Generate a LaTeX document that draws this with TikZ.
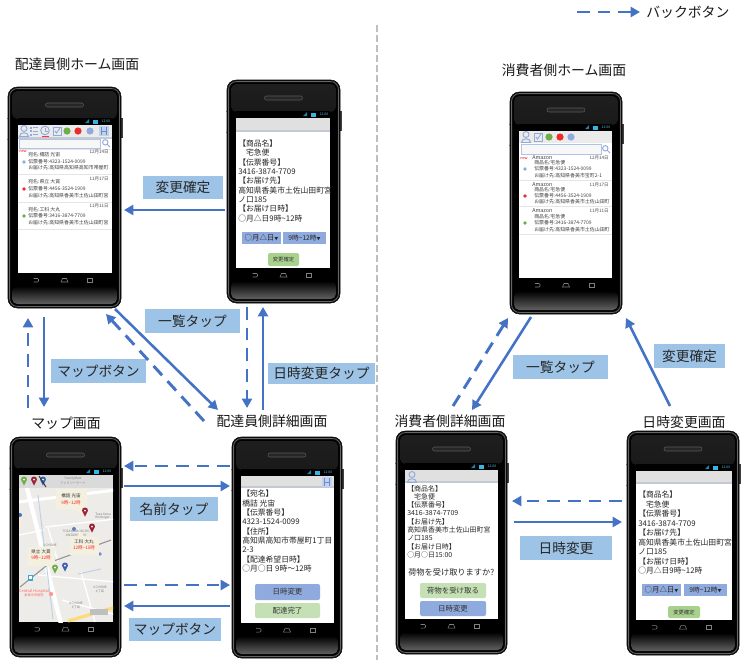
\documentclass[tikz,border=0pt]{standalone}
\usepackage{fontspec}
\setmainfont{Noto Sans CJK JP}
\usetikzlibrary{arrows.meta}

\definecolor{arrowblue}{HTML}{4472C4}
\definecolor{tagblue}{HTML}{9DC3E6}
\definecolor{btnblue}{HTML}{8FAADC}
\definecolor{btngreen}{HTML}{C5E0B4}
\definecolor{okgreen}{HTML}{A9D18E}
\definecolor{barblue}{HTML}{33B5E5}
\definecolor{dotgreen}{HTML}{70AD47}
\definecolor{dotred}{HTML}{EE2A2A}
\definecolor{pinred}{HTML}{9B2335}
\definecolor{pinblue}{HTML}{3A63B0}
\definecolor{mapbase}{HTML}{EEECE8}
\definecolor{bubble}{HTML}{F3F0DF}

\newcommand{\fsz}[1]{\fontsize{#1}{#1}\selectfont}
\newcommand{\tld}{\textasciitilde}

\tikzset{
  x=0.75pt, y=-0.75pt,
  fwdarrow/.style={draw=arrowblue, line width=1.9pt, -{Triangle[length=7pt, width=7.5pt]}},
  backarrow/.style={draw=arrowblue, line width=2.2pt, dash pattern=on 9.5pt off 6pt, -{Triangle[length=7pt, width=7.5pt]}},
  tagbox/.style 2 args={fill=tagblue, inner sep=0, minimum width={#1*0.75pt}, minimum height={#2*0.75pt}, font=\fsz{10.3}, text=black!85},
  titletext/.style={inner sep=0, font=\fsz{10.4}, text=black!90},
  phonecase/.style={draw=black, fill=black!92, rounded corners=7pt, inner sep=0, outer sep=0},
  blocktext/.style={anchor=north west, inner sep=0, align=left, text=black!85},
  listtext/.style={anchor=west, inner sep=0, font=\fsz{3.7}, text=black!75},
  daytext/.style={anchor=east, inner sep=0, font=\fsz{3.4}, text=black!70},
  screenbtn/.style n args={3}{fill=#3, rounded corners=1.5pt, inner sep=0, minimum width={#1*0.75pt}, minimum height={#2*0.75pt}, font=\fsz{5.6}, text=black!80},
  dropbox/.style 2 args={fill=btnblue, inner sep=0, minimum width={#1*0.75pt}, minimum height={#2*0.75pt}, font=\fsz{5.6}, text=black!85},
  icon/.style={draw=btnblue, line width=0.7pt},
  navkey/.style={draw=black!50, line width=0.4pt},
  maptext/.style={inner sep=0, font=\fsz{2.4}, text=black!50},
  bubbletext/.style={inner sep=0, font=\fsz{3.4}, text=black!80},
}

% case name, case x0 y0 x1 y1, screen x0 y0 x1 y1
\newcommand{\phone}[9]{
  \pgfmathsetmacro{\cx}{(#2+#4)/2}
  \pgfmathsetmacro{\cy}{(#3+#5)/2}
  \pgfmathsetmacro{\cw}{#4-#2}
  \pgfmathsetmacro{\ch}{#5-#3}
  \fill[black!75] (#4-1,#7-7) rectangle (#4+1.5,#7+13);
  \fill[black!40] (#2-1,#7-7) rectangle (#2+1,#7-6.4);
  \fill[black!40] (#2-1,#7+14) rectangle (#2+1,#7+14.6);
  \node[phonecase, minimum width={\cw*0.75pt}, minimum height={\ch*0.75pt}] (#1) at (\cx,\cy) {};
  \draw[black!60, line width=0.5pt, rounded corners=6pt] (#2+1.5,#3+1.5) rectangle (#4-1.5,#5-1.5);
  \fill[black, rounded corners=5.5pt] (#2+2.5,#3+2.5) rectangle (#4-2.5,#5-2.5);
  \shade[top color=black!88, middle color=black!60, bottom color=black!90, rounded corners=4pt] (#2+4,#3+4) rectangle (#4-4,#7-6);
  \shade[top color=black, bottom color=black!62, rounded corners=4pt] (#2+4,#9+13) rectangle (#4-4,#5-4);
  \fill[black] (#6,#7-7) rectangle (#8,#9+13);
  \fill[white] (#6,#7) rectangle (#8,#9);
  \draw[black!65, fill=black!85, line width=0.4pt, rounded corners=1.5pt] (\cx-19,#3+16) rectangle (\cx+19,#3+20);
  % status bar
  \fill[barblue!70!black] (#8-27,#7-2) -- (#8-23,#7-2) -- (#8-23,#7-6) -- cycle;
  \fill[barblue] (#8-19,#7-5.5) rectangle (#8-14,#7-1.5);
  \node[inner sep=0, text=barblue!80, font=\fsz{2.6}] (#1clock) at (#8-6,#7-3.5) {12:00};
  % nav keys
  \draw[navkey, rounded corners=0.8pt] (\cx-31,#9+5.5) -- (\cx-26,#9+5.5) -- (\cx-26,#9+9) -- (\cx-31,#9+9);
  \draw[navkey] (\cx-3.5,#9+9) -- (\cx-2,#9+5.5) -- (\cx+2,#9+5.5) -- (\cx+3.5,#9+9) -- cycle;
  \draw[navkey] (\cx+23,#9+5.5) rectangle (\cx+28,#9+9);
}

\newcommand{\headbar}[4]{
  \fill[black!12] (#1,#2) rectangle (#3,#4);
  \draw[btnblue!60!black!35, line width=1pt] (#1,#4) -- (#3,#4);
}
\newcommand{\personicon}[2]{
  \draw[icon] (#1,#2-2.5) circle[radius=3];
  \draw[icon] (#1-4.5,#2+5.5) .. controls (#1-4.5,#2+0.5) and (#1+4.5,#2+0.5) .. (#1+4.5,#2+5.5) -- cycle;
}
\newcommand{\checkicon}[2]{
  \draw[icon] (#1-4,#2-4) rectangle (#1+4,#2+4);
  \draw[icon] (#1-2,#2) -- (#1-0.5,#2+2) -- (#1+3,#2-3);
}
\newcommand{\listicon}[2]{
  \foreach \dy in {-3.5, 0, 3.5} {
    \fill[btnblue] (#1-4,#2+\dy-1) rectangle (#1-2,#2+\dy+1);
    \draw[icon] (#1-1,#2+\dy) -- (#1+4,#2+\dy);
  }
}
\newcommand{\clockicon}[2]{
  \draw[icon] (#1,#2-0.5) circle[radius=4.3];
  \draw[icon] (#1,#2-3) -- (#1,#2) -- (#1+2.5,#2);
  \draw[red!80, line width=0.7pt] (#1-3.5,#2+5) -- (#1+3.5,#2+5);
}
\newcommand{\mapicon}[2]{
  \fill[btnblue!55] (#1-5,#2-5) rectangle (#1+5,#2+5);
  \draw[arrowblue!80, line width=0.7pt] (#1-2.5,#2-4) -- (#1-2.5,#2+4) (#1+2.5,#2-4) -- (#1+2.5,#2+4) (#1-2.5,#2) -- (#1+2.5,#2);
}
\newcommand{\lensicon}[2]{
  \draw[icon] (#1-0.7,#2-0.7) circle[radius=2.7];
  \draw[icon] (#1+1.2,#2+1.2) -- (#1+4,#2+4);
}
\newcommand{\mappin}[3]{
  \fill[#3] (#1,#2+4.5) .. controls (#1-1,#2+1.5) and (#1-3,#2) .. (#1-3,#2-1.5)
    .. controls (#1-3,#2-5.5) and (#1+3,#2-5.5) .. (#1+3,#2-1.5)
    .. controls (#1+3,#2) and (#1+1,#2+1.5) .. cycle;
  \fill[white] (#1,#2-1.5) circle[radius=1];
}

\begin{document}
\begin{tikzpicture}

  \useasboundingbox (0,0) rectangle (748,665);
  \fill[white] (0,0) rectangle (748,665);

  \draw[black!25, line width=1.2pt, dash pattern=on 5pt off 2.5pt] (377,25) -- (377,660);

  \phone{home}{8}{87}{121}{308}{18}{125}{112}{273}
  \phone{change}{227}{80}{340}{303}{236}{118}{330}{268}
  \phone{map}{10}{437}{121}{657}{19}{475}{113}{622}
  \phone{detail}{232}{437}{342}{658}{241}{476}{334}{623}
  \phone{chome}{510}{92}{622}{314}{519}{131}{612}{278}
  \phone{cdetail}{396}{431}{507}{654}{405}{470}{498}{619}
  \phone{cchange}{627}{431}{739}{655}{636}{471}{732}{620}

  % titles
  \node[titletext] (homeTitle) at (77,64) {配達員側ホーム画面};
  \node[titletext] (mapTitle) at (66,423) {マップ画面};
  \node[titletext] (detailTitle) at (272,421) {配達員側詳細画面};
  \node[titletext] (chomeTitle) at (564,70) {消費者側ホーム画面};
  \node[titletext] (cdetailTitle) at (450,421) {消費者側詳細画面};
  \node[titletext] (cchangeTitle) at (684,422) {日時変更画面};

  % legend
  \coordinate (legendFrom) at (577,12);
  \node[titletext, anchor=west, inner sep=4.5pt] (legendText) at (640,12) {バックボタン};
  \draw[backarrow] (legendFrom) -- (legendText.west);

  % labels
  \node[tagbox={80}{23}] (tagConfirm) at (183,187.5) {変更確定};
  \node[tagbox={95}{24}] (tagList) at (192.5,321) {一覧タップ};
  \node[tagbox={95}{24}] (tagMapA) at (98.5,371) {マップボタン};
  \node[tagbox={107}{21}] (tagDate) at (321.5,373) {日時変更タップ};
  \node[tagbox={88}{24}] (tagName) at (174,509) {名前タップ};
  \node[tagbox={92}{23}] (tagMapB) at (175,629.5) {マップボタン};
  \node[tagbox={95}{24}] (tagCList) at (560.5,367) {一覧タップ};
  \node[tagbox={71}{24}] (tagCConfirm) at (689.5,356) {変更確定};
  \node[tagbox={92}{24}] (tagCDate) at (566,548) {日時変更};

  % connectors, driver side
  \draw[backarrow] ([shift={(-37.5,-29)}]map.north) -- ([shift={(-36.5,10)}]home.south);
  \draw[fwdarrow] ([shift={(-20.5,9)}]home.south) -- ([shift={(-21.5,-30)}]map.north);
  \draw[fwdarrow] ([shift={(50.5,1)}]home.south) -- ([shift={(-69,-27)}]detail.north);
  \draw[backarrow] ([shift={(-83,-16)}]detail.north) -- ([shift={(41.5,6)}]home.south);
  \draw[backarrow] ([shift={(-36.5,4)}]change.south) -- ([shift={(-40,-29)}]detail.north);
  \draw[fwdarrow] ([shift={(-24,-27)}]detail.north) -- ([shift={(-20.5,4)}]change.south);
  \draw[fwdarrow] ([shift={(-2,18.5)}]change.west) -- ([shift={(3,12.5)}]home.east);
  \draw[backarrow] ([shift={(-2,-81.5)}]detail.west) -- ([shift={(3,-81)}]map.east);
  \draw[fwdarrow] ([shift={(3,-61)}]map.east) -- ([shift={(-2,-61.5)}]detail.west);
  \draw[backarrow] ([shift={(3,38)}]map.east) -- ([shift={(-2,37.5)}]detail.west);
  \draw[fwdarrow] ([shift={(-2,58.5)}]detail.west) -- ([shift={(3,59)}]map.east);

  % connectors, consumer side
  \draw[backarrow] ([shift={(1.5,-25)}]cdetail.north) -- ([shift={(-58,4)}]chome.south);
  \draw[fwdarrow] ([shift={(-35,3)}]chome.south) -- ([shift={(20.5,-21)}]cdetail.north);
  \draw[fwdarrow] ([shift={(-13,-25)}]cchange.north) -- ([shift={(60,4)}]chome.south);
  \draw[backarrow] ([shift={(-5,-42)}]cchange.west) -- ([shift={(5,-41.5)}]cdetail.east);
  \draw[fwdarrow] ([shift={(7,-20.5)}]cdetail.east) -- ([shift={(-5,-21)}]cchange.west);

  % driver home screen
  \fill[black!8] (18,125) rectangle (112,138);
  \draw[btnblue!60!black!35, line width=0.8pt] (18,138) -- (112,138);
  \personicon{24}{131}
  \listicon{34}{131}
  \clockicon{45}{131}
  \checkicon{57}{131}
  \foreach \x/\dotc in {67/dotgreen, 78/dotred, 90/btnblue} {
    \fill[\dotc] (\x,131) circle[radius=3.6];
  }
  \mapicon{104}{131}
  \draw[btnblue!70, fill=black!3, line width=0.6pt] (19,139) rectangle (100,148);
  \lensicon{106}{143}
  \node[inner sep=0, text=red, font=\fsz{2.8}] (homeNew) at (23,151.5) {new};
  \draw[black!10, line width=0.5pt] (18,149) -- (112,149);
  \begin{scope}
    \clip (18,125) rectangle (112,273);
    \foreach \ya/\yb/\yc/\yd/\who/\slip/\addr/\dday/\dotc [count=\n] in {
      155/162/168/152/宛名:橋詰 光宙/4323-1524-0099/高知県高知県高知市帯屋町/12月14日/btnblue,
      182/189/196/179/宛名:県立 大賞/4456-3524-1909/高知県香美市土佐山田町宮/11月17日/dotred,
      210/216/223/206/宛名:工科 大丸/3416-3874-7709/高知県香美市土佐山田町宮/11月11日/dotgreen} {
      \node[listtext] (homeWho\n) at (28,\ya) {\who};
      \node[listtext] (homeSlip\n) at (28,\yb) {伝票番号:\slip};
      \node[listtext] (homeAddr\n) at (28,\yc) {お届け先:\addr};
      \node[daytext] (homeDay\n) at (109,\yd) {\dday};
      \fill[\dotc] (24,\yb) circle[radius=1.8];
      \draw[black!10, line width=0.6pt] (18,\yc+6) -- (112,\yc+6);
    }
  \end{scope}

  % date change screen, driver
  \headbar{236}{118}{330}{131}
  \node[blocktext, font=\fontsize{5.85}{7}\selectfont] (changeText) at (238,139.5) {【商品名】\\　宅急便\\【伝票番号】\\3416-3874-7709\\【お届け先】\\高知県香美市土佐山田町宮\\ノ口185\\【お届け日時】\\○月△日9時\tld 12時};
  \node[dropbox={39}{12}] (changeDay) at (261.5,238) {○月△日{\fsz{3}▼}};
  \node[dropbox={43}{12}, font=\fsz{5}] (changeTime) at (304.5,238) {9時\tld 12時{\fsz{3}▼}};
  \node[screenbtn={31}{13}{okgreen}, font=\fsz{4}] (changeOk) at (283.5,259.5) {変更確定};

  % map screen
  \begin{scope}
    \clip (19,475) rectangle (113,622);
    \fill[mapbase] (19,475) rectangle (113,622);
    \fill[orange!15] (19,517) rectangle (21,527);
    \draw[white, line width=1pt] (45,527) -- (116,519) (38,575) -- (116,582) (95,622) -- (81,572) (48,528) -- (58,562)
      (19,535) -- (44,530) (78,528) -- (86,552) (62,600) -- (116,615);
    \draw[white, line width=3.2pt] (23,472) -- (61,624);
    \draw[white, line width=2.2pt] (18,502) -- (116,490);
    \draw[tagblue!75, line width=0.7pt] (38,495) -- (53,619) (101,569) -- (78,574);
    \draw[black!42, line width=0.8pt] (20,587) -- (51,562) -- (111,540);
    \draw[yellow!50!orange!50, line width=2.4pt] (68,621) -- (116,607);
    \fill[black!25] (90,609) rectangle (108,615);
    \fill[barblue!80!arrowblue] (28,575) rectangle (33,581);
    \fill[white] (29,576) rectangle (32,579);
    \fill[red!40] (51,594) circle[radius=2.2];
    \fill[arrowblue!90] (74,529) circle[radius=2];
    \fill[arrowblue] (20,515) circle[radius=2];
    \fill[arrowblue!80] (100,554) circle[radius=1.8];
    \fill[black!15, opacity=0.9] (19,475) rectangle (113,488);
    \node[maptext] (mapFm) at (73,479) {FamilyMart};
    \node[maptext] (mapFmJp) at (73,483) {ファミリーマート};
    \node[maptext, anchor=west] (mapTosa) at (95,514) {Tosa Yama};
    \node[maptext, anchor=west] (mapKinder) at (95,518) {Kindergar};
    \node[maptext] (mapYama) at (76,531) {TOSAYAMADACHO};
    \node[maptext] (mapJin) at (76,535) {JINZAIKOCHO};
    \node[maptext, text=red!60, font=\fsz{3}] (mapHosp) at (34,591) {Central Hospital};
    \node[maptext, text=red!60] (mapHospJp) at (34,595) {泉泰中央病院};
    \node[maptext] (mapChoA) at (100,587) {4 CHOME};
    \node[maptext] (mapChoAJp) at (100,591) {4丁目};
    \node[maptext] (mapChoB) at (76,603) {4 CHOME};
    \node[maptext] (mapChoBJp) at (76,607) {4丁目};
    \node[maptext] (mapChoC) at (50,545) {2 CHOME};
    % name bubbles
    \fill[bubble] (56,489) rectangle (87,509);
    \fill[bubble] (74,509) -- (82,509) -- (82,515) -- cycle;
    \fill[bubble] (70,537) rectangle (99,555);
    \fill[bubble] (76,537) -- (84,537) -- (82,532) -- cycle;
    \fill[bubble] (28,547) rectangle (55,566);
    \fill[bubble] (46,566) -- (53,566) -- (56,570) -- cycle;
    \node[bubbletext] (mapNameA) at (71,496) {橋詰 光宙};
    \node[bubbletext, text=red!85] (mapTimeA) at (71,503) {9時\tld 12時};
    \node[bubbletext] (mapNameB) at (84,542) {工科 大丸};
    \node[bubbletext, text=red!85] (mapTimeB) at (84,548) {12時\tld 15時};
    \node[bubbletext] (mapNameC) at (41,552) {県立 大賞};
    \node[bubbletext, text=red!85] (mapTimeC) at (41,558) {9時\tld 12時};
    \mappin{85}{512}{pinred}
    \mappin{92}{528}{pinred}
    \mappin{55}{569}{dotgreen}
    \mappin{65}{567}{pinblue}
    \mappin{24}{481}{dotgreen}
    \mappin{34}{481}{pinred}
    \mappin{43}{481}{pinblue}
    \draw[black!80, line width=0.7pt] (39,476) -- (46,487);
  \end{scope}

  % driver detail screen
  \headbar{241}{476}{334}{487}
  \mapicon{327}{482}
  \node[blocktext, font=\fontsize{5.85}{7}\selectfont] (detailText) at (242,490) {【宛名】\\橋詰 光宙\\【伝票番号】\\4323-1524-0099\\【住所】\\高知県高知市帯屋町1丁目\\2-3\\【配達希望日時】\\○月○日 9時～12時};
  \node[screenbtn={65}{16}{btnblue}] (detailDate) at (287.5,592) {日時変更};
  \node[screenbtn={65}{15}{btngreen}] (detailDone) at (287.5,610.5) {配達完了};

  % consumer home screen
  \fill[black!8] (519,131) rectangle (612,143);
  \personicon{526}{137}
  \checkicon{538}{137}
  \foreach \x/\dotc in {549/dotgreen, 560/dotred, 571/btnblue} {
    \fill[\dotc] (\x,137) circle[radius=3.6];
  }
  \draw[btnblue!70, fill=black!3, line width=0.6pt] (521,144) rectangle (601,154);
  \lensicon{606}{149}
  \node[inner sep=0, text=red, font=\fsz{2.8}] (chomeNew) at (524,158) {new};
  \begin{scope}
    \clip (519,131) rectangle (612,278);
    \foreach \ya/\yb/\yc/\yd/\slip/\addr/\dday/\dotc [count=\n] in {
      158/163/169/176/4323-1524-0099/高知県香美市宝町2-1/12月14日/btnblue,
      185/190/196/202/4456-3524-1909/高知県香美市土佐山田町/11月17日/dotred,
      211/217/223/230/3416-3874-7709/高知県香美市土佐山田町/11月11日/dotgreen} {
      \node[listtext, font=\fsz{4}] (chomeShop\n) at (532,\ya) {Amazon};
      \node[listtext] (chomeItem\n) at (534,\yb) {商品名:宅急便};
      \node[listtext] (chomeSlip\n) at (534,\yc) {伝票番号:\slip};
      \node[listtext] (chomeAddr\n) at (534,\yd) {お届け先:\addr};
      \node[daytext] (chomeDay\n) at (609,\ya) {\dday};
      \fill[\dotc] (525,\yc) circle[radius=1.8];
      \draw[black!10, line width=0.6pt] (519,\yd+4) -- (612,\yd+4);
    }
  \end{scope}

  % consumer detail screen
  \headbar{405}{470}{498}{482}
  \personicon{412}{477}
  \node[blocktext, font=\fontsize{5.2}{6.2}\selectfont] (cdetailText) at (407,485) {【商品名】\\　宅急便\\【伝票番号】\\3416-3874-7709\\【お届け先】\\高知県香美市土佐山田町宮\\ノ口185\\【お届け日時】\\○月○日15:00};
  \node[inner sep=0, anchor=west, font=\fsz{6.15}, text=black!85] (cdetailAsk) at (408,572) {荷物を受け取りますか?};
  \node[screenbtn={66}{15}{btngreen}] (cdetailGet) at (453,590.5) {荷物を受け取る};
  \node[screenbtn={66}{15}{btnblue}] (cdetailDate) at (453,608.5) {日時変更};

  % date change screen, consumer
  \headbar{636}{471}{732}{483}
  \node[blocktext, font=\fontsize{5.85}{7.1}\selectfont] (cchangeText) at (638,491) {【商品名】\\　宅急便\\【伝票番号】\\3416-3874-7709\\【お届け先】\\高知県香美市土佐山田町宮\\ノ口185\\【お届け日時】\\○月△日9時\tld 12時};
  \node[dropbox={39}{12}] (cchangeDay) at (661.5,590) {○月△日{\fsz{3}▼}};
  \node[dropbox={43}{12}, font=\fsz{5}] (cchangeTime) at (705.5,590) {9時\tld 12時{\fsz{3}▼}};
  \node[screenbtn={32}{12}{okgreen}, font=\fsz{4}] (cchangeOk) at (684,612) {変更確定};

\end{tikzpicture}
\end{document}
